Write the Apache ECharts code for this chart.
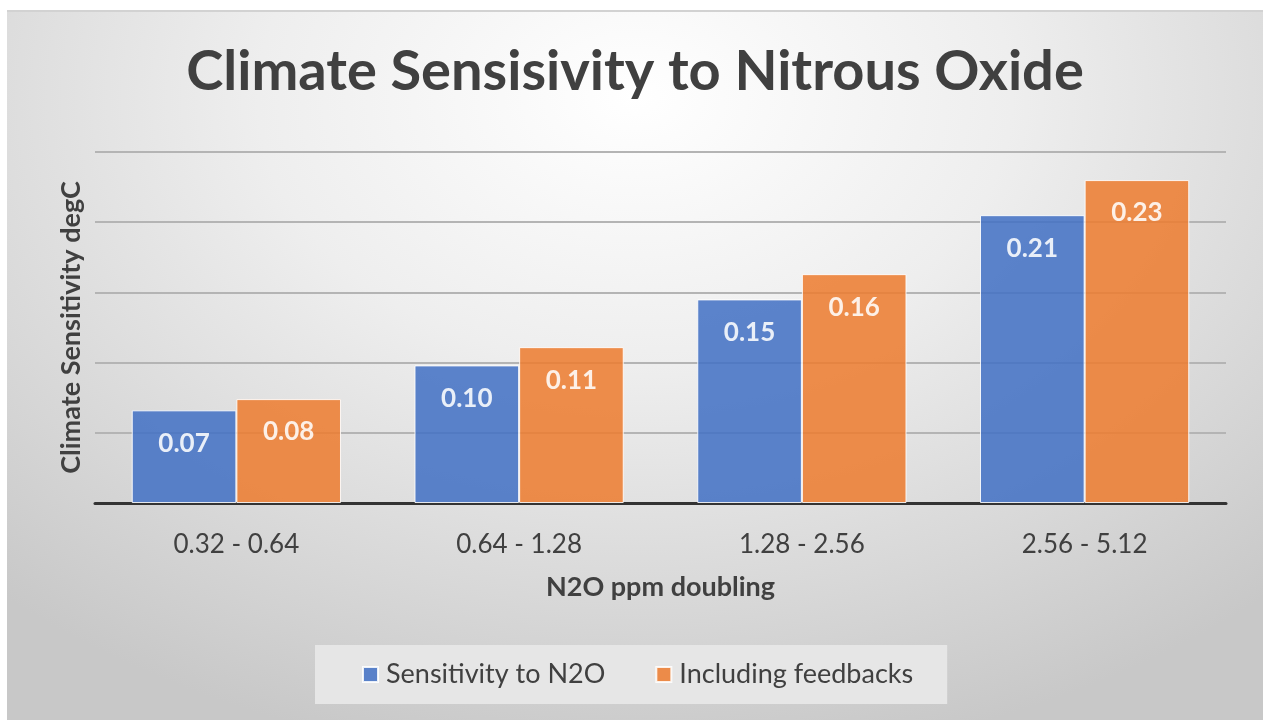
<!DOCTYPE html>
<html>
<head>
<meta charset="utf-8">
<script src="https://cdn.jsdelivr.net/npm/echarts@6/dist/echarts.min.js"></script>
<style>
  html, body { margin: 0; padding: 0; background: #ffffff; }
  .chart_box {
    position: absolute;
    left: 7px;
    top: 10px;
    width: 1256px;
    height: 710px;
    border-top: 2px solid #d2d2d2;
    box-sizing: border-box;
    background: radial-gradient(ellipse 75% 95% at 50% 12%, #ffffff 0%, #eeeeee 40%, #d8d8d8 75%, #c8c8c8 100%);
  }
  #chart { width: 100%; height: 100%; }
</style>
</head>
<body>
<div class="chart_box">
  <div id="chart"></div>
</div>
<script>
// N2O ppm doubling ranges
const categories = ['0.32 - 0.64', '0.64 - 1.28', '1.28 - 2.56', '2.56 - 5.12']
const seriesNames = ['Sensitivity to N2O', 'Including feedbacks']
// bar heights (degC)
const sensitivity = [0.066, 0.098, 0.145, 0.205]
const withFeedbacks = [0.074, 0.111, 0.163, 0.23]
// data labels as printed on the bars
const sensitivityLabels = ['0.07', '0.10', '0.15', '0.21']
const feedbackLabels = ['0.08', '0.11', '0.16', '0.23']

const font = 'Lato, "Open Sans", sans-serif'
const textColor = '#404040'

const chart = echarts.init(document.getElementById('chart'))

function barSeries(name, data, labels, color) {
  return {
    name: name,
    type: 'bar',
    data: data,
    itemStyle: {
      color: color,
      opacity: 0.87,
      borderColor: '#ffffff',
      borderWidth: 1,
    },
    label: {
      show: true,
      position: 'insideTop',
      distance: 20,
      color: '#ffffff',
      fontFamily: font,
      fontWeight: 'bold',
      fontSize: 26,
      formatter: p => labels[p.dataIndex],
    },
  }
}

const option = {
  animation: false,
  backgroundColor: 'transparent',
  title: {
    text: 'Climate Sensisivity to Nitrous Oxide',
    left: 'center',
    top: 27,
    textStyle: {
      fontFamily: font,
      fontWeight: 'bold',
      fontSize: 56,
      color: textColor,
    },
  },
  grid: {
    left: 88,
    right: 37,
    top: 140,
    bottom: 217,
  },
  legend: {
    data: seriesNames,
    left: 308,
    top: 633,
    padding: [16, 34, 16, 47],
    backgroundColor: '#e6e6e6',
    itemWidth: 15,
    itemHeight: 15,
    itemGap: 50,
    icon: 'rect',
    textStyle: {
      fontFamily: font,
      fontSize: 27,
      color: textColor,
      padding: [0, 0, 0, 3],
    },
  },
  xAxis: {
    type: 'category',
    data: categories,
    name: 'N2O ppm doubling',
    nameLocation: 'middle',
    nameGap: 71,
    nameTextStyle: {
      fontFamily: font,
      fontWeight: 'bold',
      fontSize: 27,
      color: textColor,
    },
    axisLine: { lineStyle: { color: '#333333', width: 3 } },
    axisTick: { show: false },
    axisLabel: {
      margin: 29,
      fontFamily: font,
      fontSize: 26,
      color: textColor,
    },
  },
  yAxis: {
    type: 'value',
    min: 0,
    max: 0.25,
    interval: 0.05,
    name: 'Climate Sensitivity degC',
    nameLocation: 'middle',
    nameRotate: 90,
    nameGap: 10,
    nameTextStyle: {
      fontFamily: font,
      fontWeight: 'bold',
      fontSize: 27,
      color: textColor,
    },
    axisLine: { show: false },
    axisTick: { show: false },
    axisLabel: { show: false },
    splitLine: { lineStyle: { color: '#b4b4b4', width: 2 } },
  },
  series: [
    Object.assign(barSeries(seriesNames[0], sensitivity, sensitivityLabels, '#4472C4'), {
      barGap: '0%',
      barCategoryGap: '26%',
    }),
    barSeries(seriesNames[1], withFeedbacks, feedbackLabels, '#ED7D31'),
  ],
}

chart.setOption(option)
</script>
</body>
</html>
